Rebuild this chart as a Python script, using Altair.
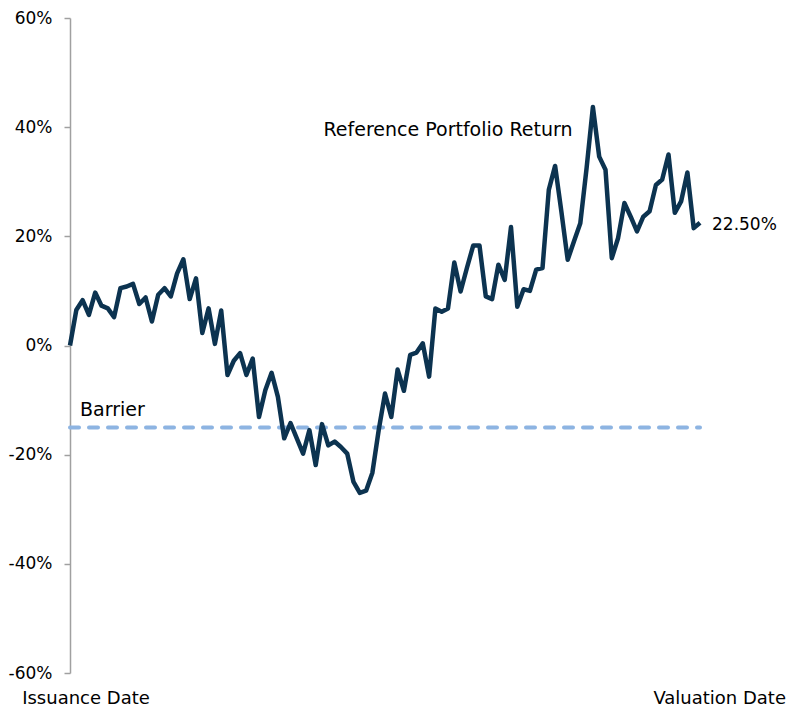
import altair as alt
import pandas as pd

returns = [0, 6.5, 8.3, 5.6, 9.7, 7.3, 6.8, 5.2, 10.5, 10.8,
           11.3, 7.6, 8.8, 4.4, 9.3, 10.5, 9.0, 13.2, 15.8, 8.5,
           12.3, 2.3, 6.8, 0.3, 6.4, -5.4, -2.8, -1.4, -5.4, -2.4,
           -13.1, -8.2, -5.0, -9.4, -17.0, -14.2, -17.0, -19.8, -15.5, -21.9,
           -14.4, -18.3, -17.6, -18.6, -19.8, -25.0, -27.0, -26.6, -23.3, -15.5,
           -8.8, -13.1, -4.4, -8.3, -1.7, -1.3, 0.4, -5.7, 6.8, 6.2,
           6.8, 15.2, 9.9, 14.2, 18.3, 18.3, 9.0, 8.5, 14.8, 12.0,
           21.7, 7.1, 10.3, 10.0, 13.9, 14.2, 28.5, 32.9, 24.5, 15.7,
           19.1, 22.4, 32.5, 43.7, 34.6, 32.2, 16.0, 19.7, 26.1, 23.6,
           20.9, 23.6, 24.6, 29.4, 30.4, 35.0, 24.3, 26.4, 31.7, 21.5,
           22.5]
barrier = -15.0
x_labels = ["Issuance Date", "Valuation Date"]
series_label = "Reference Portfolio Return"
series_label_pos = [60, 39.5]
barrier_label = "Barrier"
end_label = "22.50%"
y_ticks = [-0.6, -0.4, -0.2, 0, 0.2, 0.4, 0.6]

FONT = "DejaVu Sans"
N = len(returns) - 1

df = pd.DataFrame({"t": list(range(len(returns))), "r": [v / 100 for v in returns]})
bar_df = pd.DataFrame({"t": [0, N], "r": [barrier / 100] * 2})

xscale = alt.Scale(domain=[0, N], nice=False, zero=False)
yscale = alt.Scale(domain=[-0.6, 0.6], nice=False)

yaxis = alt.Axis(
    values=y_ticks,
    labelExpr="(datum.value < 0 ? '-' : '') + format(abs(datum.value), '.0%')",
    domainColor="#A0A0A0", domainWidth=1.5, tickColor="#A0A0A0", tickWidth=1.5,
    tickSize=6, grid=False, title=None,
    labelFont=FONT, labelFontSize=17, labelColor="black", labelPadding=12,
)

barrier_line = alt.Chart(bar_df).mark_line(
    color="#8DB4E2", strokeWidth=4, strokeDash=[9, 10], strokeCap="round"
).encode(x=alt.X("t:Q", scale=xscale, axis=None), y=alt.Y("r:Q", scale=yscale, axis=yaxis))

line = alt.Chart(df).mark_line(color="#0C3350", strokeWidth=4.5, strokeJoin="round").encode(
    x=alt.X("t:Q", scale=xscale), y=alt.Y("r:Q", scale=yscale)
)

txt = dict(font=FONT, fontSize=19, color="black")
lbl_series = alt.Chart(pd.DataFrame({"t": [series_label_pos[0]], "r": [series_label_pos[1] / 100], "s": [series_label]})).mark_text(
    align="center", baseline="middle", **txt
).encode(x="t:Q", y="r:Q", text="s:N")

lbl_barrier = alt.Chart(pd.DataFrame({"t": [0], "r": [barrier / 100], "s": [barrier_label]})).mark_text(
    align="left", baseline="middle", dx=10, dy=-17, **txt
).encode(x="t:Q", y="r:Q", text="s:N")

lbl_end = alt.Chart(pd.DataFrame({"t": [N], "r": [returns[-1] / 100], "s": [end_label]})).mark_text(
    align="left", baseline="middle", dx=12, dy=2, font=FONT, fontSize=17, color="black"
).encode(x="t:Q", y="r:Q", text="s:N")

xtxt = dict(font=FONT, fontSize=18, color="black")
lbl_x0 = alt.Chart(pd.DataFrame({"t": [0], "r": [-0.6], "s": [x_labels[0]]})).mark_text(
    align="center", baseline="middle", dx=16, dy=26, **xtxt
).encode(x="t:Q", y="r:Q", text="s:N")

lbl_x1 = alt.Chart(pd.DataFrame({"t": [N], "r": [-0.6], "s": [x_labels[1]]})).mark_text(
    align="right", baseline="middle", dx=86, dy=26, **xtxt
).encode(x="t:Q", y="r:Q", text="s:N")

chart = alt.layer(barrier_line, line, lbl_series, lbl_barrier, lbl_end, lbl_x0, lbl_x1).properties(
    width=630, height=655,
    autosize="none",
    padding={"left": 62, "top": 10, "right": 87, "bottom": 38},
).configure_view(stroke=None)

chart.save("out.html", embed_options={"renderer": "svg", "actions": False})
